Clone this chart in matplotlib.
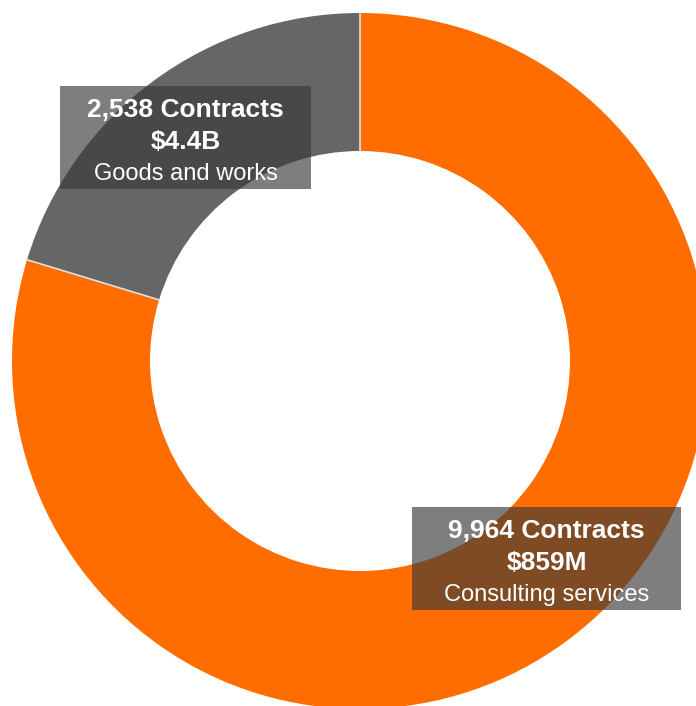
import matplotlib
matplotlib.use("Agg")
import numpy as np
import matplotlib.pyplot as plt
from matplotlib.patches import Rectangle

# data
categories = ["Goods and works", "Consulting services"]
contracts = [2538, 9964]
amounts = ["$4.4B", "$859M"]
colors = ["#666666", "#FF6D00"]

W, H = 696, 706
fig = plt.figure(figsize=(W / 100, H / 100), dpi=100)
ax = fig.add_axes([0, 0, 1, 1])

# donut, pixel units (y up)
cx, cy = 360, H - 361
r_out, r_in = 348, 210
wedges, _ = ax.pie(contracts, colors=colors, startangle=90, counterclock=True,
                   center=(cx, cy), radius=r_out,
                   wedgeprops=dict(width=r_out - r_in, edgecolor="none", linewidth=0))
# thin light separators between slices
for w in wedges:
    a = np.deg2rad(w.theta1)
    ax.plot([cx + r_in * np.cos(a), cx + r_out * np.cos(a)],
            [cy + r_in * np.sin(a), cy + r_out * np.sin(a)],
            color="#e0e0e0", lw=1.2, zorder=3)
ax.set_xlim(0, W)
ax.set_ylim(0, H)
ax.set_aspect("auto")
ax.axis("off")

# label boxes: (x0, y0_top, x1, y1_bottom) in pixels from top-left
boxes = [(60, 86, 311, 189), (412, 507, 681, 610)]
baselines = [(117, 149, 180), (538, 570, 601)]

for i, cat in enumerate(categories):
    x0, t, x1, b = boxes[i]
    ax.add_patch(Rectangle((x0, H - b), x1 - x0, b - t,
                           facecolor="#393939", alpha=0.65, edgecolor="none", zorder=5))
    xc = (x0 + x1) / 2
    bl = baselines[i]
    ax.text(xc, H - bl[0], f"{contracts[i]:,} Contracts", ha="center", va="baseline",
            color="white", fontsize=19, fontweight="bold", family="Liberation Sans", zorder=6)
    ax.text(xc, H - bl[1], amounts[i], ha="center", va="baseline",
            color="white", fontsize=19, fontweight="bold", family="Liberation Sans", zorder=6)
    ax.text(xc, H - bl[2], cat, ha="center", va="baseline",
            color="white", fontsize=17, family="Liberation Sans", zorder=6)

fig.savefig("out.png", dpi=100)
